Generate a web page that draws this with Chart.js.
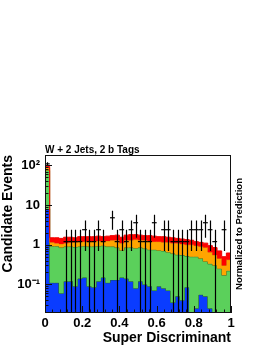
<!DOCTYPE html>
<html><head><meta charset="utf-8">
<script src="https://cdn.jsdelivr.net/npm/chart.js@4"></script>
<style>html,body{margin:0;padding:0;background:#fff;}#wrap{width:270px;height:349px;position:relative;}</style>
</head><body><div id="wrap"><canvas id="c" width="270" height="349"></canvas></div>
<script>
const binEdges = [0,0.025,0.05,0.075,0.1,0.125,0.15,0.175,0.2,0.225,0.25,0.275,0.3,0.325,0.35,0.375,0.4,0.425,0.45,0.475,0.5,0.525,0.55,0.575,0.6,0.625,0.65,0.675,0.7,0.725,0.75,0.775,0.8,0.825,0.85,0.875,0.9,0.925,0.95,0.975,1];
const blueVals = [8,0.11,0.11,0.06,0.12,0.12,0.09,0.14,0.15,0.09,0.085,0.12,0.15,0.11,0.13,0.13,0.15,0.14,0.12,0.08,0.12,0.10,0.09,0.07,0.09,0.08,0.07,0.035,0.05,0.04,0.085,0.02,0.025,0.055,0.05,0.025,0,0,0,0];
const greenVals = [67,0.81,0.81,0.79,0.78,0.78,0.79,0.76,0.77,0.81,0.815,0.80,0.80,0.79,0.77,0.72,0.57,0.71,0.73,0.74,0.73,0.70,0.66,0.68,0.63,0.62,0.58,0.565,0.51,0.51,0.435,0.48,0.475,0.395,0.33,0.305,0.30,0.25,0.17,0.22];
const orangeVals = [13,0.23,0.18,0.20,0.20,0.25,0.27,0.30,0.28,0.30,0.30,0.33,0.25,0.35,0.40,0.45,0.38,0.45,0.45,0.53,0.45,0.50,0.50,0.45,0.48,0.45,0.50,0.50,0.54,0.50,0.48,0.50,0.45,0.45,0.47,0.32,0.25,0.20,0.13,0.20];
const redVals = [7,0.35,0.40,0.40,0.45,0.40,0.35,0.40,0.40,0.40,0.40,0.40,0.40,0.40,0.40,0.45,0.45,0.45,0.50,0.45,0.45,0.40,0.45,0.45,0.40,0.45,0.40,0.40,0.35,0.35,0.35,0.30,0.25,0.25,0.25,0.30,0.30,0.25,0.20,0.20];
const dataVals = [110,null,null,null,1.2,1.2,1.2,1.2,2.4,1.2,1.2,2.4,1.2,null,4.8,1.2,2.4,1.2,2.4,3.6,1.2,1.2,1.2,3.6,null,2.4,2.4,1.2,1.2,1.2,1.2,2.4,2.4,2.4,3.6,2.4,1.2,null,2.4,null];
const dataErr = [10.5,null,null,null,1.2,1.2,1.2,1.2,1.7,1.2,1.2,1.7,1.2,null,2.4,1.2,1.7,1.2,1.7,2.1,1.2,1.2,1.2,2.1,null,1.7,1.7,1.2,1.2,1.2,1.2,1.7,1.7,1.7,2.1,1.7,1.2,null,1.7,null];
const yTickVals = [0.1,1,10,100];
const yTickLabels = ['10\u207B\u00B9','1','10','10\u00B2'];
const xTickVals = [0,0.2,0.4,0.6,0.8,1];
const xTickLabels = ['0','0.2','0.4','0.6','0.8','1'];
const titleText = 'W + 2 Jets, 2 b Tags';
const xTitle = 'Super Discriminant';
const yTitle = 'Candidate Events';
const rightText = 'Normalized to Prediction';

const FONT = "'Liberation Sans', Arial, Helvetica, sans-serif";
const Y_MIN = 0.019, Y_MAX = 184, FLOOR = 1e-4;

const layers = [
  {vals: blueVals,   fill: '#0a3cff', line: '#1e5c1e'},
  {vals: greenVals,  fill: '#5bd05b', line: '#2a6e2a'},
  {vals: orangeVals, fill: '#ffa500', line: '#d98800'},
  {vals: redVals,    fill: '#ff0000', line: '#ee0000'}
];
let running = blueVals.map(() => 0);
const layerSets = layers.map((L, k) => {
  running = running.map((r, i) => r + L.vals[i]);
  const pts = running.map((v, i) => ({x: binEdges[i], y: v > 0 ? v : FLOOR}));
  const last = running[running.length - 1];
  pts.push({x: binEdges[binEdges.length - 1], y: last > 0 ? last : FLOOR});
  return {
    type: 'line', data: pts, stepped: true, pointRadius: 0,
    borderColor: L.line, borderWidth: 1, backgroundColor: L.fill,
    fill: k === 0 ? 'start' : '-1', clip: 0, order: 10 - k
  };
});
const dataPts = [];
dataVals.forEach((v, i) => { if (v != null) dataPts.push({x: (binEdges[i] + binEdges[i+1]) / 2, y: v}); });

const errPlugin = {
  id: 'errbars',
  afterDatasetsDraw(chart) {
    const {ctx, chartArea: a, scales: {x, y}} = chart;
    ctx.save();
    ctx.beginPath(); ctx.rect(a.left, a.top, a.right - a.left, a.bottom - a.top); ctx.clip();
    ctx.strokeStyle = '#000'; ctx.lineWidth = 1.2;
    ctx.beginPath();
    dataVals.forEach((v, i) => {
      if (v == null) return;
      const xc = Math.round(x.getPixelForValue((binEdges[i] + binEdges[i+1]) / 2)) + 0.5;
      const lo = v - dataErr[i];
      const yLo = lo > 0 ? y.getPixelForValue(lo) : a.bottom;
      const yHi = y.getPixelForValue(v + dataErr[i]);
      ctx.moveTo(xc, yHi); ctx.lineTo(xc, yLo);
    });
    ctx.stroke();
    ctx.restore();
  },
  afterDraw(chart) {
    const {ctx, chartArea: a, scales: {x, y}} = chart;
    ctx.save();
    ctx.strokeStyle = '#111'; ctx.lineWidth = 1;
    ctx.strokeRect(a.left + 0.5, a.top + 0.5, a.right - a.left - 1, a.bottom - a.top - 1);
    ctx.beginPath();
    for (let d = 0.01; d <= 1000; d *= 10) {
      for (let m = 1; m <= 9; m++) {
        const v = m * d;
        if (v < Y_MIN || v > Y_MAX) continue;
        const py = Math.round(y.getPixelForValue(v)) + 0.5;
        const len = m === 1 ? 7 : 3.5;
        ctx.moveTo(a.left, py); ctx.lineTo(a.left + len, py);
      }
    }
    for (let k = 0; k <= 25; k++) {
      const v = k * 0.04;
      const px = Math.round(x.getPixelForValue(v)) + 0.5;
      const len = (k % 5 === 0) ? 7 : 3.5;
      ctx.moveTo(px, a.bottom); ctx.lineTo(px, a.bottom - len);
    }
    ctx.stroke();
    ctx.fillStyle = '#000';
    ctx.font = 'bold 9.5px ' + FONT;
    ctx.translate(239, (a.top + a.bottom) / 2 + 0);
    ctx.rotate(-Math.PI / 2);
    ctx.textAlign = 'center'; ctx.textBaseline = 'middle';
    ctx.fillText(rightText, 0, 0);
    ctx.restore();
  }
};

new Chart(document.getElementById('c'), {
  type: 'line',
  data: {
    datasets: [
      {type: 'scatter', data: dataPts, pointStyle: 'line', pointRadius: 2.4, borderColor: '#000', borderWidth: 1.2, backgroundColor: '#000', order: 0, clip: 0},
      ...layerSets
    ]
  },
  options: {
    responsive: false, animation: false, devicePixelRatio: 1,
    layout: {padding: {left: 0, right: 39, top: 0, bottom: 0}},
    plugins: {
      legend: {display: false}, tooltip: {enabled: false},
      title: {display: true, text: titleText, align: 'start', fullSize: false, color: '#000',
        font: {family: FONT, size: 10, weight: 'bold', lineHeight: 1}, padding: {top: 145, bottom: 0}}
    },
    scales: {
      x: {
        type: 'linear', min: 0, max: 1,
        afterBuildTicks: s => { s.ticks = xTickVals.map(v => ({value: v})); },
        afterFit: s => { s.height = 36; },
        grid: {display: false, drawTicks: false},
        border: {display: false},
        ticks: {padding: 3, color: '#000', font: {family: FONT, size: 13, weight: 'bold'}, maxRotation: 0,
          callback: (v) => xTickLabels[xTickVals.indexOf(v)] ?? ''},
        title: {display: true, text: xTitle, align: 'end', color: '#000', font: {family: FONT, size: 14, weight: 'bold'}, padding: {top: 0, bottom: 2}}
      },
      y: {
        type: 'logarithmic', min: Y_MIN, max: Y_MAX,
        afterBuildTicks: s => { s.ticks = yTickVals.map(v => ({value: v})); },
        afterFit: s => { s.width = 45; },
        grid: {display: false, drawTicks: false},
        border: {display: false},
        ticks: {padding: 5, color: '#000', font: {family: FONT, size: 13, weight: 'bold'},
          callback: (v) => { const i = yTickVals.findIndex(t => Math.abs(t - v) / t < 1e-6); return i >= 0 ? yTickLabels[i] : ''; }},
        title: {display: true, text: yTitle, align: 'end', color: '#000', font: {family: FONT, size: 14, weight: 'bold'}, padding: {top: 0, bottom: 0}}
      }
    }
  },
  plugins: [errPlugin]
});
</script></body></html>
